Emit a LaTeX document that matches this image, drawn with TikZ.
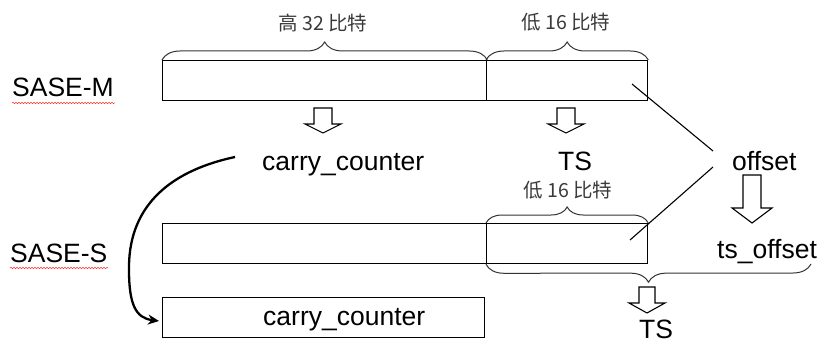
\documentclass[tikz,border=0pt]{standalone}
\usepackage{fontspec}
\setmainfont{Liberation Sans}
\newfontfamily\cjk{Noto Sans CJK SC}
\usetikzlibrary{decorations.pathreplacing,decorations.pathmorphing,arrows.meta}
\definecolor{lblgray}{HTML}{3A3A3A}
\newcommand\hollowarr[6]{%
  \draw[harrow] (#1-#4,#2) -- (#1+#4,#2) -- (#1+#4,#3-#6) -- (#1+#5,#3-#6) -- (#1,#3) -- (#1-#5,#3-#6) -- (#1-#4,#3-#6) -- cycle;}
\tikzset{
  field/.style={draw=black, line width=1.3pt, minimum height=40pt, inner sep=0pt, anchor=north west},
  big/.style={font=\fontsize{26.5}{30}\selectfont, inner sep=0pt},
  cjklbl/.style={font=\cjk\fontsize{19.5}{22}\selectfont, text=lblgray, inner sep=0pt},
  harrow/.style={draw=black, line width=1.1pt, fill=white, line join=miter},
  bracestyle/.style={draw=black!80, line width=1pt, decorate},
  conn/.style={draw=black, line width=1.1pt},
  spell/.style={draw=red!80, line width=0.5pt, decorate, decoration={snake, amplitude=0.8pt, segment length=3pt}}
}
\begin{document}
\begin{tikzpicture}[x=1pt,y=-1pt]
\useasboundingbox (0,0) rectangle (821,342);
% SASE-M
\node[field, minimum width=324pt] (m1) at (162,60) {};
\node[field, minimum width=161pt] (m2) at (486,60) {};
% SASE-S
\node[field, minimum width=324pt] (s1) at (162,223) {};
\node[field, minimum width=161pt] (s2) at (486,223) {};
% carry_counter box
\node[field, minimum width=322pt] (ccbox) at (162,297) {};
% labels
\node[big, anchor=base west] (sm) at (12,97) {SASE-M};
\node[big, anchor=base west] (ss) at (10,262) {SASE-S};
\draw[spell] (12,103) -- (115,103);
\draw[spell] (10,268) -- (108,268);
\node[big, anchor=base west] (cc1) at (262,170) {carry\_counter};
\node[big, anchor=base] (ts1) at (575,170) {TS};
\node[big, anchor=base west] (off) at (732,170) {offset};
\node[big, anchor=base west] (tso) at (717,258) {ts\_offset};
\node[big, anchor=base] (ts2) at (656,338.5) {TS};
\node[big, anchor=base west] (cc2) at (263,325) {carry\_counter};
% braces
\draw[bracestyle, decoration={brace, amplitude=18pt}] (m1.north west) -- (m1.north east);
\draw[bracestyle, decoration={brace, amplitude=18pt}] (m2.north west) -- (m2.north east);
\draw[bracestyle, decoration={brace, amplitude=16pt}] (s2.north west) -- (s2.north east);
\draw[bracestyle, decoration={brace, amplitude=18pt}] (811,264) -- (s2.south west);
\node[cjklbl] (hi32) at (323,23) {高 32 比特};
\node[cjklbl] (lo16a) at (566,22) {低 16 比特};
\node[cjklbl] (lo16b) at (568,190) {低 16 比特};
% hollow arrows
\hollowarr{323}{108}{133}{9}{18}{9}
\hollowarr{566}{108}{133}{9}{18}{9}
\hollowarr{752}{175}{223}{9}{20}{15}
\hollowarr{647}{287}{313}{8}{18}{10}
% offset lines
\coordinate (m2in) at (632,84);
\coordinate (offa) at (713,151);
\coordinate (offb) at (713,167);
\coordinate (s2in) at (630,240);
\draw[conn] (m2in) -- (offa);
\draw[conn] (offb) -- (s2in);
% curved arrow
\coordinate (cstart) at (235,157);
\coordinate (cend) at (159,321);
\draw[line width=2.3pt, -{Stealth[length=11pt,width=10pt]}] (cstart) .. controls (165,172) and (128,210) .. (129,270) .. controls (129,305) and (136,318) .. (cend);
\end{tikzpicture}
\end{document}
